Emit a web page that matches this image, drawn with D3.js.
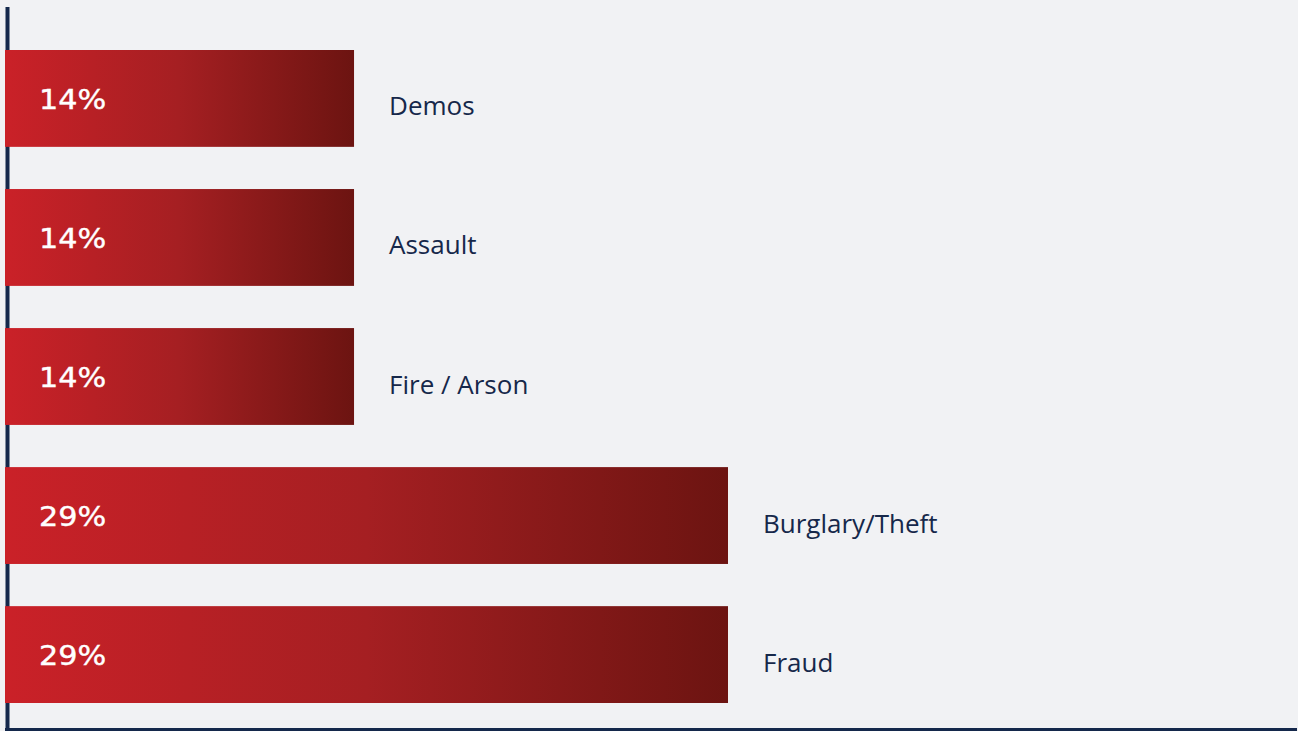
<!DOCTYPE html>
<html>
<head>
<meta charset="utf-8">
<script src="https://cdn.jsdelivr.net/npm/d3@7"></script>
<style>
  html, body { margin: 0; padding: 0; background: #f1f2f4; }
  svg { display: block; }
</style>
</head>
<body>
<svg id="chart" width="1298" height="731"></svg>
<script>
const categories = ["Demos", "Assault", "Fire / Arson", "Burglary/Theft", "Fraud"];
const values = [14, 14, 14, 29, 29];
const valueLabels = ["14%", "14%", "14%", "29%", "29%"];

const W = 1298, H = 731;
const svg = d3.select("#chart");

svg.append("rect").attr("width", W).attr("height", H).attr("fill", "#f1f2f4");

const defs = svg.append("defs");
const grad = defs.append("linearGradient")
  .attr("id", "barGrad")
  .attr("x1", "0%").attr("x2", "100%").attr("y1", "0%").attr("y2", "0%");
grad.append("stop").attr("offset", "0%").attr("stop-color", "#ca2128");
grad.append("stop").attr("offset", "50%").attr("stop-color", "#a51f22");
grad.append("stop").attr("offset", "100%").attr("stop-color", "#6c1411");

const x = d3.scaleLinear().domain([0, 29]).range([5, 728]);
const y = d3.scaleBand().domain(categories).range([50, 703]).paddingInner(0.3034).paddingOuter(0);

const data = categories.map((c, i) => ({ cat: c, v: values[i], lab: valueLabels[i] }));

// axis lines
svg.append("line")
  .attr("x1", 7.5).attr("x2", 7.5).attr("y1", 7).attr("y2", H)
  .attr("stroke", "#14284b").attr("stroke-width", 4);
svg.append("line")
  .attr("x1", 5).attr("x2", 1297).attr("y1", 729.5).attr("y2", 729.5)
  .attr("stroke", "#14284b").attr("stroke-width", 3);

const g = svg.append("g");

g.selectAll("rect.bar").data(data).join("rect")
  .attr("class", "bar")
  .attr("x", x(0))
  .attr("y", d => y(d.cat))
  .attr("width", d => x(d.v) - x(0))
  .attr("height", y.bandwidth())
  .attr("fill", "url(#barGrad)");

// value labels (wide display font approximated by horizontal scaling)
g.selectAll("text.val").data(data).join("text")
  .attr("class", "val")
  .attr("transform", d => `translate(${x(0) + 34},${y(d.cat) + y.bandwidth() / 2 + 1}) scale(1.12,1)`)
  .attr("dominant-baseline", "central")
  .attr("font-family", "'DejaVu Sans', sans-serif")
  .attr("font-size", 27)
  .attr("fill", "#ffffff")
  .attr("stroke", "#ffffff")
  .attr("stroke-width", 0.4)
  .text(d => d.lab);

// category labels
g.selectAll("text.cat").data(data).join("text")
  .attr("class", "cat")
  .attr("x", d => x(d.v) + 35)
  .attr("y", d => y(d.cat) + y.bandwidth() / 2 + 7)
  .attr("dominant-baseline", "central")
  .attr("font-family", "'Open Sans', sans-serif")
  .attr("font-size", 26)
  .attr("fill", "#16284a")
  .text(d => d.cat);
</script>
</body>
</html>
